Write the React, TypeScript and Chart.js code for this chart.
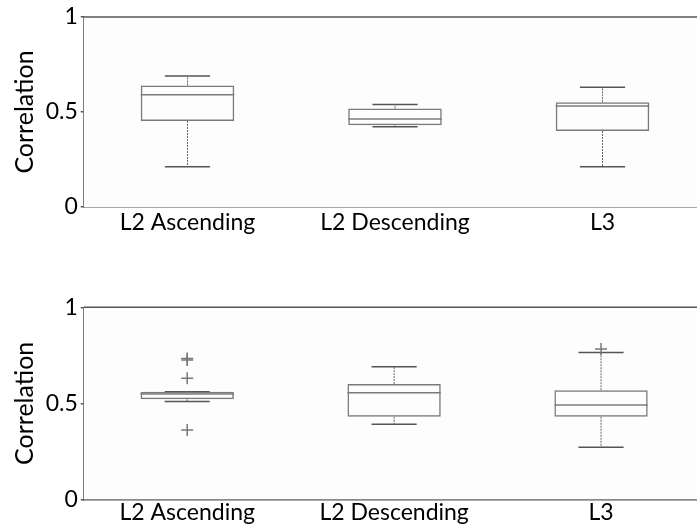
import React, { useEffect, useRef } from 'react';
import { Chart, registerables } from 'chart.js';

Chart.register(...registerables);

const categories = ['L2 Ascending', 'L2 Descending', 'L3'];
const yTickValues = [0, 0.5, 1];
const yTitle = 'Correlation';

// Top panel statistics
const topLow = [0.212, 0.423, 0.212];
const topQ1 = [0.453, 0.43, 0.4];
const topMed = [0.591, 0.463, 0.532];
const topQ3 = [0.64, 0.519, 0.551];
const topHigh = [0.689, 0.54, 0.63];
const topOutliers: number[][] = [[], [], []];

// Bottom panel statistics
const botLow = [0.51, 0.391, 0.271];
const botQ1 = [0.521, 0.43, 0.43];
const botMed = [0.548, 0.555, 0.491];
const botQ3 = [0.56, 0.6, 0.568];
const botHigh = [0.56, 0.691, 0.764];
const botOutliers: number[][] = [[0.733, 0.726, 0.63, 0.361], [], [0.783]];

const FONT = 'Lato, "Open Sans", sans-serif';
const AXIS = '#555555';
const BOXC = '#7a7a7a';
const CANVAS_W = 712;

type Stats = {
  low: number[];
  q1: number[];
  med: number[];
  q3: number[];
  high: number[];
  outliers: number[][];
};

function Panel(props: { stats: Stats; top: number; height: number; padTop: number; xAxisH: number; labelPad: number }) {
  const ref = useRef<HTMLCanvasElement | null>(null);
  const { stats, top, height, padTop, xAxisH, labelPad } = props;

  useEffect(() => {
    const canvas = ref.current;
    if (!canvas) return;

    const boxPlugin = {
      id: 'boxExtras',
      beforeDatasetsDraw(chart: any) {
        const { ctx, chartArea } = chart;
        ctx.save();
        ctx.fillStyle = '#fdfdfd';
        ctx.fillRect(chartArea.left, chartArea.top, chartArea.right - chartArea.left, chartArea.bottom - chartArea.top);
        // top frame line
        ctx.strokeStyle = AXIS;
        ctx.lineWidth = 1.5;
        ctx.beginPath();
        ctx.moveTo(chartArea.left, chartArea.top);
        ctx.lineTo(chartArea.right, chartArea.top);
        ctx.stroke();

        const xs = chart.scales.x;
        const ys = chart.scales.y;
        const catW = xs.getPixelForValue(1) - xs.getPixelForValue(0);
        const capHalf = catW * 0.109;
        categories.forEach((_, i) => {
          const cx = xs.getPixelForValue(i);
          // whiskers (dotted)
          ctx.strokeStyle = '#666';
          ctx.lineWidth = 1;
          ctx.setLineDash([2, 1]);
          ctx.beginPath();
          ctx.moveTo(cx, ys.getPixelForValue(stats.q3[i]));
          ctx.lineTo(cx, ys.getPixelForValue(stats.high[i]));
          ctx.moveTo(cx, ys.getPixelForValue(stats.q1[i]));
          ctx.lineTo(cx, ys.getPixelForValue(stats.low[i]));
          ctx.stroke();
          ctx.setLineDash([]);
          // caps
          ctx.strokeStyle = '#555';
          ctx.lineWidth = 1.5;
          ctx.beginPath();
          const yh = ys.getPixelForValue(stats.high[i]);
          const yl = ys.getPixelForValue(stats.low[i]);
          ctx.moveTo(cx - capHalf, yh);
          ctx.lineTo(cx + capHalf, yh);
          ctx.moveTo(cx - capHalf, yl);
          ctx.lineTo(cx + capHalf, yl);
          ctx.stroke();
        });
        ctx.restore();
      },
      afterDatasetsDraw(chart: any) {
        const { ctx } = chart;
        const xs = chart.scales.x;
        const ys = chart.scales.y;
        const meta = chart.getDatasetMeta(0);
        ctx.save();
        ctx.strokeStyle = BOXC;
        ctx.lineWidth = 1.5;
        categories.forEach((_, i) => {
          const bar = meta.data[i];
          const half = bar.width / 2;
          const cx = xs.getPixelForValue(i);
          const ym = ys.getPixelForValue(stats.med[i]);
          ctx.beginPath();
          ctx.moveTo(cx - half, ym);
          ctx.lineTo(cx + half, ym);
          ctx.stroke();
        });
        ctx.restore();
      },
    };

    const outlierPoints: { x: string; y: number }[] = [];
    stats.outliers.forEach((arr, i) => arr.forEach((v) => outlierPoints.push({ x: categories[i], y: v })));

    const chart = new Chart(canvas, {
      type: 'bar',
      data: {
        labels: categories,
        datasets: [
          {
            type: 'bar',
            data: categories.map((_, i) => [stats.q1[i], stats.q3[i]]) as any,
            backgroundColor: 'rgba(0,0,0,0)',
            borderColor: BOXC,
            borderWidth: 1.5,
            borderSkipped: false,
            barPercentage: 0.451,
            categoryPercentage: 1,
          } as any,
          {
            type: 'scatter',
            data: outlierPoints as any,
            pointStyle: 'cross',
            radius: 6,
            borderColor: '#777',
            borderWidth: 1.5,
            backgroundColor: 'rgba(0,0,0,0)',
          } as any,
        ],
      },
      options: {
        responsive: false,
        animation: false,
        events: [],
        layout: { padding: { left: 0, top: padTop, right: CANVAS_W - 706.25, bottom: 0 } },
        plugins: { legend: { display: false }, tooltip: { enabled: false } },
        scales: {
          x: {
            type: 'category',
            offset: true,
            grid: { display: false, drawTicks: false },
            border: { display: true, color: AXIS, width: 1.5 },
            ticks: { color: '#000', font: { family: FONT, size: 23 }, padding: labelPad, maxRotation: 0, autoSkip: false },
            afterFit: (s: any) => {
              s.height = xAxisH;
            },
          },
          y: {
            min: 0,
            max: 1,
            afterBuildTicks: (s: any) => {
              s.ticks = yTickValues.map((v) => ({ value: v }));
            },
            grid: { display: true, drawOnChartArea: false, drawTicks: true, tickLength: 3, color: AXIS, lineWidth: 1.5 },
            border: { display: true, color: AXIS, width: 1.5 },
            ticks: {
              color: '#000',
              font: { family: FONT, size: 23 },
              padding: 3,
              callback: (v: any) => String(v),
            },
            title: { display: true, text: yTitle, color: '#000', font: { family: FONT, size: 25 }, padding: { top: 10, bottom: 0 } },
            afterFit: (s: any) => {
              s.width = 83.75;
            },
          },
        },
      } as any,
      plugins: [boxPlugin],
    });
    return () => chart.destroy();
  }, []);

  return (
    <canvas
      ref={ref}
      width={CANVAS_W}
      height={height}
      style={{ position: 'absolute', left: 0, top, width: CANVAS_W, height }}
    />
  );
}

export default function App() {
  const topStats: Stats = { low: topLow, q1: topQ1, med: topMed, q3: topQ3, high: topHigh, outliers: topOutliers };
  const botStats: Stats = { low: botLow, q1: botQ1, med: botMed, q3: botQ3, high: botHigh, outliers: botOutliers };
  return (
    <div style={{ position: 'fixed', left: 0, top: 0, width: 697, height: 524, overflow: 'hidden', background: '#fff' }}>
      <Panel stats={topStats} top={0} height={262} padTop={17} xAxisH={55} labelPad={2} />
      <Panel stats={botStats} top={290} height={234} padTop={17.3} xAxisH={24.7} labelPad={-1} />
    </div>
  );
}
